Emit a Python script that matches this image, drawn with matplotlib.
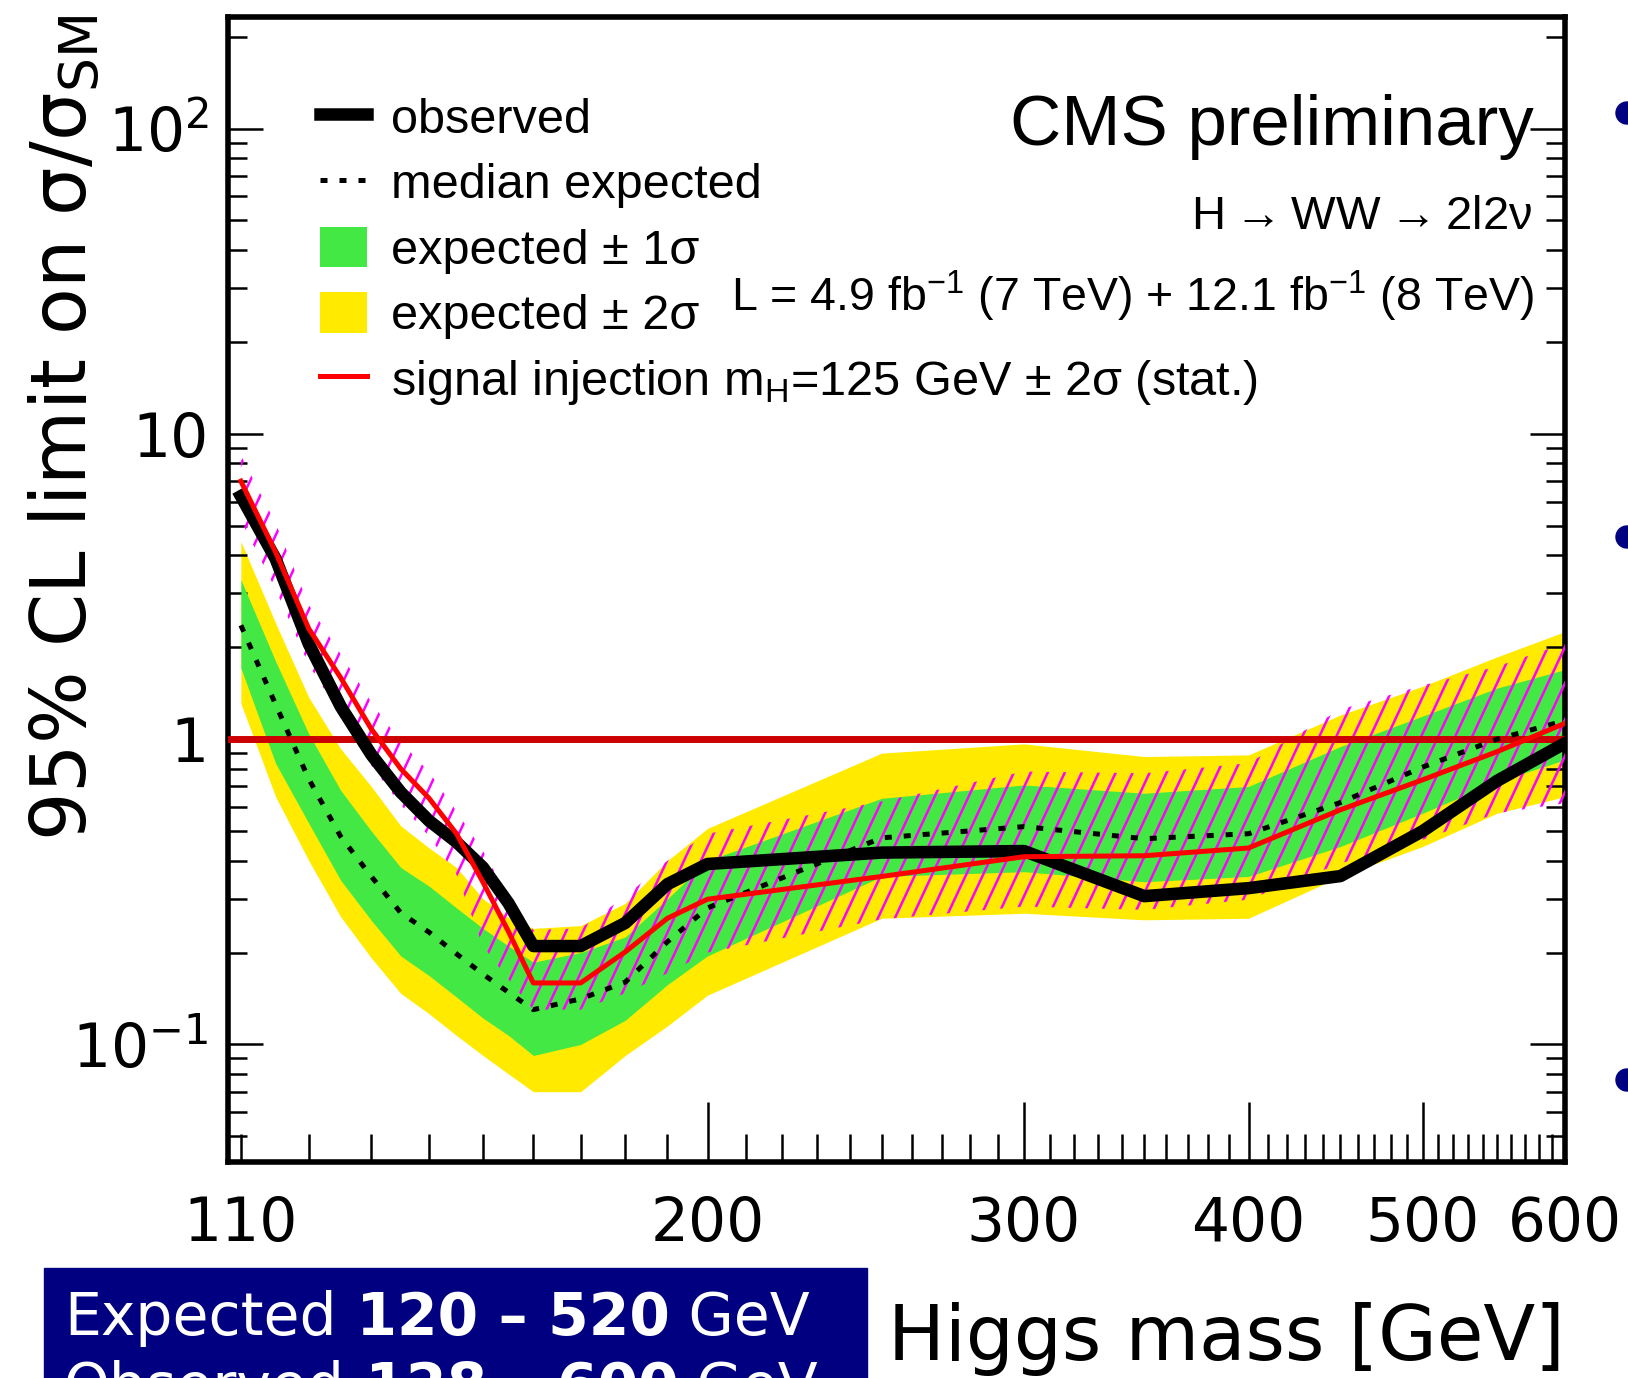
import matplotlib
matplotlib.use("Agg")
import matplotlib.pyplot as plt
import numpy as np
from matplotlib.lines import Line2D
from matplotlib.patches import Patch, Rectangle, Circle
from matplotlib.collections import LineCollection
from matplotlib.ticker import FixedLocator, FixedFormatter, LogLocator, NullFormatter

plt.rcParams['font.family'] = ['DejaVu Sans']
plt.rcParams['mathtext.default'] = 'regular'

# Higgs mass points [GeV]
mass = [110, 115, 120, 125, 130, 135, 140, 145, 150, 155, 160, 170, 180,
        190, 200, 250, 300, 350, 400, 450, 500, 550, 600]

# 95% CL limits on sigma/sigma_SM
observed = [6.25, 3.9, 2.05, 1.28, 0.89, 0.67, 0.54, 0.46, 0.38, 0.29, 0.21,
            0.21, 0.25, 0.335, 0.39, 0.425, 0.43, 0.306, 0.325, 0.356, 0.50,
            0.73, 0.97]
exp_median = [2.36, 1.30, 0.74, 0.48, 0.355, 0.27, 0.233, 0.198, 0.170, 0.148,
              0.130, 0.141, 0.160, 0.217, 0.280, 0.475, 0.517, 0.472, 0.490,
              0.620, 0.810, 1.00, 1.15]
exp_1s_lo = [1.71, 0.834, 0.53, 0.345, 0.255, 0.195, 0.168, 0.143, 0.122,
             0.107, 0.092, 0.100, 0.120, 0.157, 0.195, 0.355, 0.368, 0.341,
             0.355, 0.445, 0.572, 0.726, 0.855]
exp_1s_hi = [3.33, 1.80, 1.04, 0.68, 0.50, 0.38, 0.33, 0.28, 0.24, 0.21, 0.186,
             0.20, 0.225, 0.30, 0.40, 0.64, 0.708, 0.665, 0.70, 0.946, 1.19,
             1.47, 1.69]
exp_2s_lo = [1.31, 0.648, 0.40, 0.262, 0.192, 0.147, 0.126, 0.107, 0.092,
             0.080, 0.070, 0.070, 0.092, 0.115, 0.145, 0.259, 0.269, 0.256,
             0.259, 0.355, 0.445, 0.572, 0.648]
exp_2s_hi = [4.44, 2.40, 1.37, 0.93, 0.70, 0.52, 0.44, 0.38, 0.30, 0.26, 0.24,
             0.245, 0.29, 0.40, 0.51, 0.90, 0.965, 0.877, 0.888, 1.20, 1.49,
             1.86, 2.25]

# signal injection (mH = 125 GeV) and its +-2 sigma stat. band
injected = [7.0, 4.1, 2.3, 1.59, 1.08, 0.80, 0.64, 0.49, 0.34, 0.234, 0.159,
            0.159, 0.201, 0.259, 0.299, 0.355, 0.412, 0.415, 0.44, 0.587,
            0.736, 0.91, 1.127]
inj_lo = [5.2, 3.1, 1.75, 1.2, 0.82, 0.61, 0.48, 0.36, 0.21, 0.163, 0.13,
          0.13, 0.147, 0.171, 0.20, 0.257, 0.283, 0.276, 0.298, 0.392, 0.468,
          0.572, 0.617]
inj_hi = [8.5, 5.1, 2.75, 1.9, 1.32, 0.98, 0.78, 0.58, 0.43, 0.305, 0.237,
          0.24, 0.305, 0.40, 0.49, 0.625, 0.783, 0.773, 0.834, 1.25, 1.50,
          1.73, 2.06]

xticks = [110, 200, 300, 400, 500, 600]
xtick_labels = ['110', '200', '300', '400', '500', '600']
yticks = [0.1, 1, 10, 100]
ytick_labels = ['10$^{-1}$', '1', '10', '10$^{2}$']

GREEN = '#44e844'
YELLOW = '#ffea00'
NAVY = '#000080'
dotted = (0, (1.4, 2.4))

fig = plt.figure(figsize=(16.28, 13.78), dpi=100)
ax = fig.add_axes([228 / 1628, 1 - 1162 / 1378, 1337 / 1628, 1145 / 1378])
ax.set_xscale('log')
ax.set_yscale('log')

ax.fill_between(mass, exp_2s_lo, exp_2s_hi, color=YELLOW, lw=0, zorder=1)
ax.fill_between(mass, exp_1s_lo, exp_1s_hi, color=GREEN, lw=0, zorder=2)

# hatched injection band: steep lines clipped to the band outline
inj_band = ax.fill_between(mass, inj_lo, inj_hi, facecolor='none',
                           edgecolor='none', zorder=3)
starts = np.arange(-0.45, 1.0, 0.0127)
segs = [[(x0, 0.0), (x0 + 0.40, 1.0)] for x0 in starts]
hatch = LineCollection(segs, colors='#ff00ff', linewidths=1.8,
                       transform=ax.transAxes, zorder=3)
ax.add_collection(hatch, autolim=False)
hatch.set_clip_path(inj_band.get_paths()[0], ax.transData)

ax.axhline(1, color='#cc0000', lw=5, zorder=4)
ax.plot(mass, exp_median, color='k', lw=3.6, ls=dotted, zorder=5)
ax.plot(mass, observed, color='k', lw=9, zorder=6)
ax.plot(mass, injected, color='#ff0000', lw=3.6, zorder=7)

ax.set_xlim(108.2, 600)
ax.set_ylim(0.0412, 232)

minor_x = [m for m in range(120, 600, 10) if m not in xticks]
ax.xaxis.set_major_locator(FixedLocator(xticks))
ax.xaxis.set_major_formatter(FixedFormatter(xtick_labels))
ax.xaxis.set_minor_locator(FixedLocator(minor_x))
ax.xaxis.set_minor_formatter(NullFormatter())
ax.yaxis.set_major_locator(FixedLocator(yticks))
ax.yaxis.set_major_formatter(FixedFormatter(ytick_labels))
ax.yaxis.set_minor_locator(LogLocator(base=10, subs=range(2, 10)))
ax.yaxis.set_minor_formatter(NullFormatter())

ax.tick_params(axis='x', which='major', direction='in', length=43, width=1.8,
               labelsize=43, pad=24, top=False)
ax.tick_params(axis='x', which='minor', direction='in', length=20, width=1.8,
               top=False)
ax.tick_params(axis='y', which='major', direction='in', length=25, width=1.8,
               labelsize=43, pad=14, right=True)
ax.tick_params(axis='y', which='minor', direction='in', length=13.7,
               width=1.8, right=True)
# end labels 110 and 600 sit on short ticks
majors = ax.xaxis.get_major_ticks()
for t in (majors[0], majors[-1]):
    t.tick1line.set_markersize(20)

for sp in ax.spines.values():
    sp.set_linewidth(4)

ax.set_xlabel('Higgs mass [GeV]', fontsize=54.5, ha='right', va='baseline')
ax.xaxis.set_label_coords(1.0, -0.173)
ax.set_ylabel('95% CL limit on σ/σ$_{SM}$', fontsize=55, ha='right', va='top')
ax.yaxis.set_label_coords(-0.151, 1.002)

handles = [
    Line2D([], [], color='k', lw=9),
    Line2D([], [], color='k', lw=3.6, ls=dotted),
    Patch(facecolor=GREEN),
    Patch(facecolor=YELLOW),
    Line2D([], [], color='#ff0000', lw=3.6),
]
labels = ['observed', 'median expected', 'expected ± 1σ', 'expected ± 2σ',
          'signal injection m$_{H}$=125 GeV ± 2σ (stat.)']
ax.legend(handles, labels, loc='upper left', bbox_to_anchor=(0.0688, 0.931),
          frameon=False, borderpad=0, borderaxespad=0, handlelength=0.97,
          handleheight=0.9, handletextpad=0.5, labelspacing=0.38,
          prop={'family': ['Liberation Sans', 'DejaVu Sans'], 'size': 35})

txt_font = ['Liberation Sans', 'DejaVu Sans']
ax.text(0.9768, 0.888, 'CMS preliminary', transform=ax.transAxes,
        ha='right', va='baseline', fontsize=51, family=txt_font)
ax.text(0.9753, 0.815, r'H$\rightarrow$WW$\rightarrow$2l2ν',
        transform=ax.transAxes, ha='right', va='baseline', fontsize=34,
        family=txt_font)
ax.text(0.9768, 0.743,
        'L = 4.9 fb$^{-1}$ (7 TeV) + 12.1 fb$^{-1}$ (8 TeV)',
        transform=ax.transAxes, ha='right', va='baseline', fontsize=33.5,
        family=txt_font)

# summary box below the plot
fig.patches.append(Rectangle((44 / 1628, 0), 823 / 1628, 110 / 1378,
                             transform=fig.transFigure, color=NAVY, zorder=0))
renderer = fig.canvas.get_renderer()
rows = [('Expected', ' 120 – 520', ' GeV', 0.0312),
        ('Observed', ' 128 – 600', ' GeV', -0.0196)]
for pre, rng, unit, yb in rows:
    x = 64 / 1628
    for part, weight in ((pre, 'normal'), (rng, 'bold'), (unit, 'normal')):
        t = fig.text(x, yb, part, color='white', fontsize=42,
                     fontweight=weight, va='baseline')
        x = t.get_window_extent(renderer).x1 / fig.bbox.width

for yc in (113, 537, 1080):
    fig.patches.append(Circle((16.27, (1378 - yc) / 100), 0.11, color=NAVY,
                              transform=fig.dpi_scale_trans))

fig.savefig('out.png', dpi=100)
